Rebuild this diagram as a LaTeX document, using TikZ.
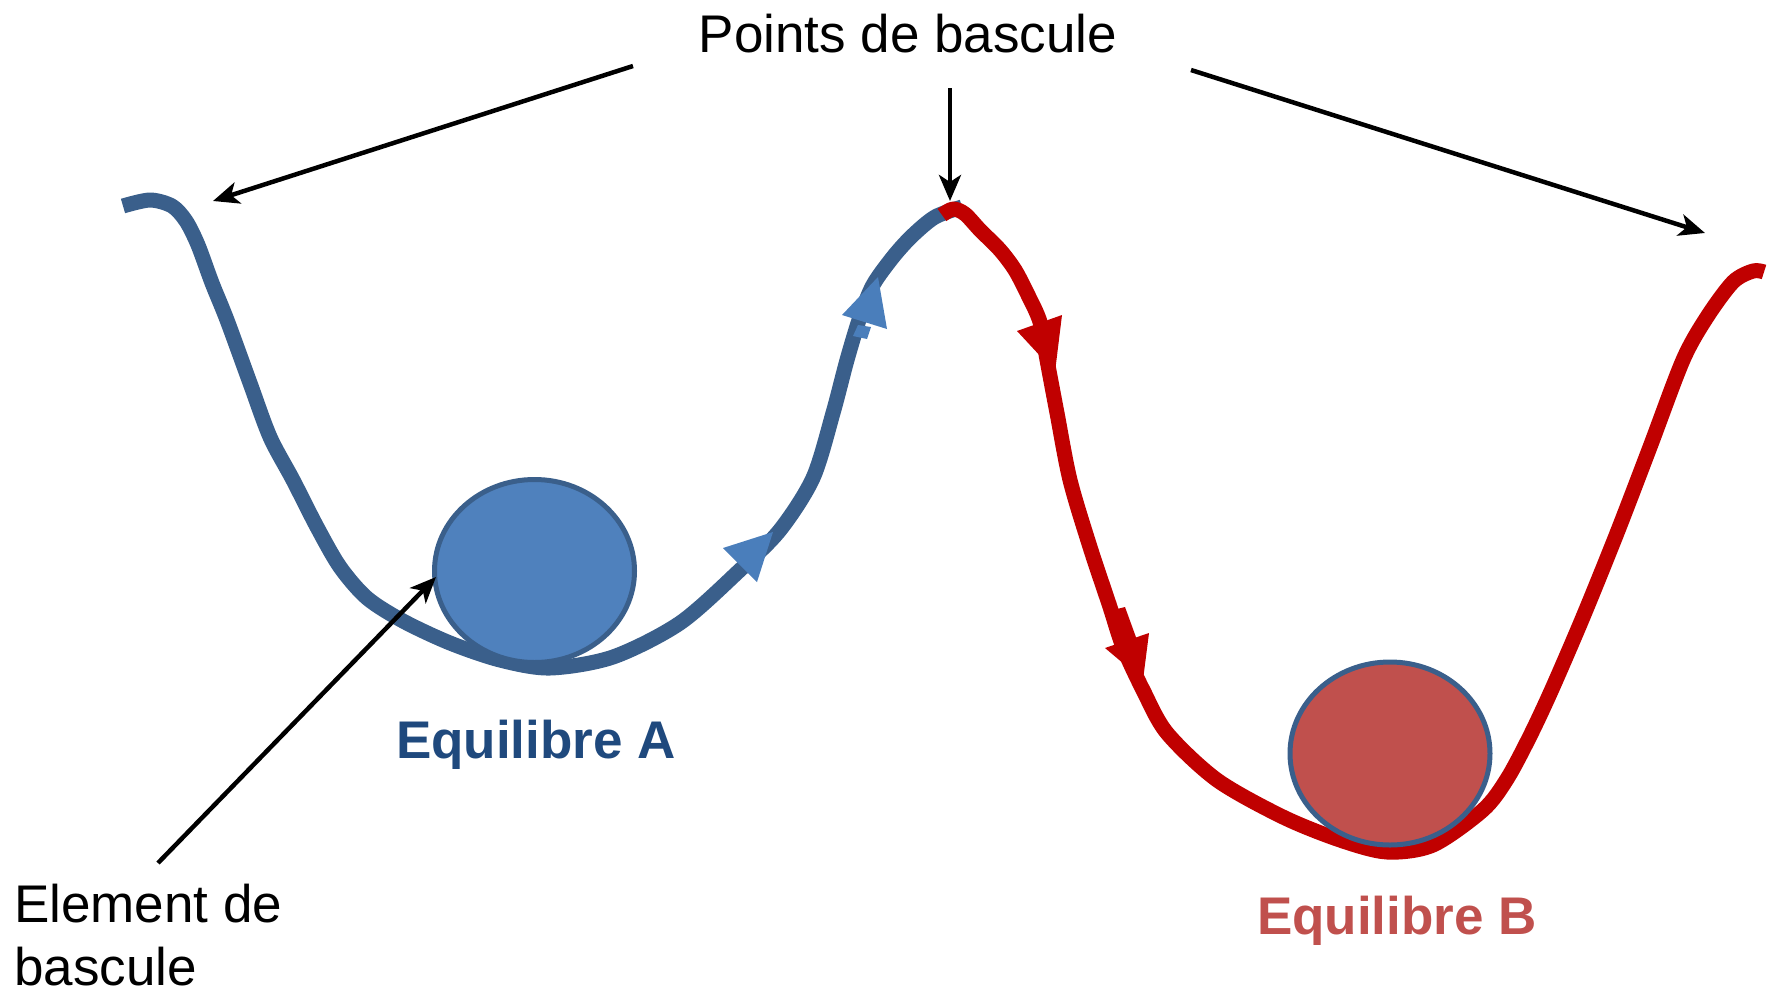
\documentclass[tikz,border=0pt]{standalone}
\usepackage{fontspec}
\setmainfont{Liberation Sans}
\usetikzlibrary{arrows.meta,shapes.geometric}
\definecolor{curveblue}{HTML}{3A5F8B}
\definecolor{lightblue}{HTML}{4A7EBB}
\definecolor{ballblue}{HTML}{4F81BD}
\definecolor{ballred}{HTML}{C0504D}
\definecolor{curvered}{HTML}{C00000}
\definecolor{textblue}{HTML}{1F497D}
\begin{document}
\begin{tikzpicture}[x=1pt,y=-1pt,
  pointer/.style={line width=4.5pt,black,-{Stealth[length=26pt,width=22pt,inset=7pt]}},
  track/.style={line width=15pt,line join=round},
  ball/.style={ellipse,draw=curveblue,line width=5pt,inner sep=0pt,minimum width=200pt,minimum height=183pt},
  lbl/.style={inner sep=0pt,font=\fontsize{53}{63}\selectfont},
  eqlbl/.style={lbl,font=\fontsize{53}{63}\selectfont\bfseries}
]
\useasboundingbox (0,0) rectangle (1773,994);

% landscape track
\draw[track,curveblue] plot[smooth,tension=0.5] coordinates {
 (123,206) (150,200) (172,206) (186,221) (198,245) (212,283) (227,320)
 (250,383) (270,437) (293,480) (317,527) (340,567) (367,598) (403,621)
 (450,643) (500,660) (550,668) (613,657) (680,623) (740,570) (780,530)
 (813,478) (833,413) (847,360) (860,317) (873,285) (893,257) (912,236)
 (935,217) (962,207)};
\draw[track,curvered] plot[smooth,tension=0.5] coordinates {
 (942,215) (953,209) (965,214) (980,230) (1000,250) (1015,270) (1028,295)
 (1040,322) (1047,360) (1057,413) (1070,480) (1090,547) (1110,607)
 (1123,647) (1143,690) (1167,733) (1217,780) (1283,817) (1340,840)
 (1387,852) (1433,845) (1483,810) (1507,779) (1530,736) (1552,689)
 (1583,617) (1617,533) (1650,447) (1683,360) (1707,317) (1733,282)
 (1753,271) (1764,272)};

% direction arrowheads on the track
\fill[lightblue] (723,548) -- (773,532) -- (757,582) -- cycle;
\fill[lightblue] (858,325) -- (871,327) -- (867,339) -- (853,336) -- cycle;
\fill[lightblue] (842,315) -- (878,277) -- (887,329) -- cycle;
\fill[curvered] (1017,331) -- (1062,315) -- (1055,372) -- cycle;
\fill[curvered] (1113,610) -- (1125,607) -- (1137,640) -- (1120,645) -- cycle;
\fill[curvered] (1105,648) -- (1149,633) -- (1143,680) -- cycle;

% balls
\node[ball,fill=ballblue] (ballA) at (534.5,571) {};
\node[ball,fill=ballred] (ballB) at (1390,753.5) {};

% labels
\node[lbl,anchor=base] (tips) at (908,52) {Points de bascule};
\node[lbl,anchor=north west,align=left] (elem) at (14,884) {Element de\\bascule};
\node[eqlbl,anchor=base,text=textblue] (eqA) at (536,758) {Equilibre A};
\node[eqlbl,anchor=base,text=ballred] (eqB) at (1397,934) {Equilibre B};

% pointers
\coordinate (pL) at (633,66);
\coordinate (pM) at (950,88);
\coordinate (pR) at (1191,70);
\coordinate (tipL) at (213,201);
\coordinate (tipM) at (950,201);
\coordinate (tipR) at (1705,233);
\coordinate (elemStart) at (158,863);
\coordinate (ballAedge) at (436,577);
\draw[pointer] (pL) -- (tipL);
\draw[pointer] (pM) -- (tipM);
\draw[pointer] (pR) -- (tipR);
\draw[pointer] (elemStart) -- (ballAedge);
\end{tikzpicture}
\end{document}
